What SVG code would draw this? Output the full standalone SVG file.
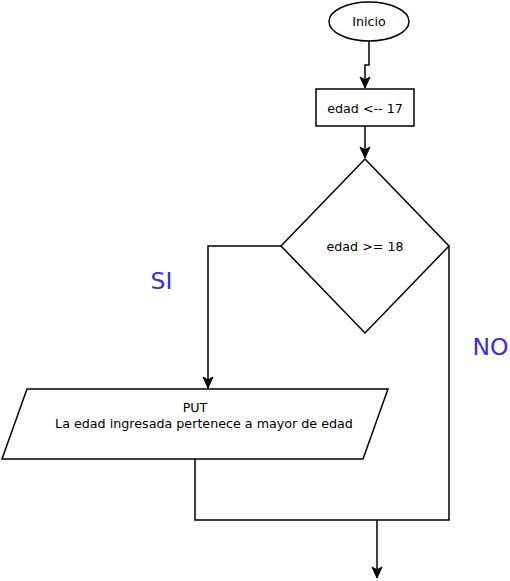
<svg xmlns="http://www.w3.org/2000/svg" width="510" height="581" viewBox="0 0 510 581">
<style>
.shape{fill:#ffffff;stroke:#000000;stroke-width:1.5}
.edge{fill:none;stroke:#000000;stroke-width:1.5}
.t{font-family:"DejaVu Sans",sans-serif;font-size:12.7px;fill:#000000;text-anchor:middle}
.lbl{font-family:"DejaVu Sans",sans-serif;font-size:23.5px;fill:#3a2ee0;text-anchor:middle}
</style>
<defs>
<marker id="arr" markerUnits="userSpaceOnUse" markerWidth="13" markerHeight="13" viewBox="0 0 13 13" refX="12" refY="6.5" orient="auto">
<path d="M1,1.5 L12,6.5 L1,11.5 L3.8,6.5 Z" fill="#000" stroke="#000" stroke-width="1"/>
</marker>
</defs>
<g id="connectors">
<path class="edge" d="M369,41 L369,65 L365,65 L365,88" marker-end="url(#arr)"/>
<path class="edge" d="M365,126 L365,158" marker-end="url(#arr)"/>
<path class="edge" d="M281,246 L208,246 L208,388" marker-end="url(#arr)"/>
<path class="edge" d="M449,246 L449,520 L377,520"/>
<path class="edge" d="M195,459 L195,520 L377,520"/>
<path class="edge" d="M377,520 L377,578" marker-end="url(#arr)"/>
</g>
<g id="inicio">
<ellipse class="shape" cx="369" cy="21.5" rx="40" ry="19.5"/>
<text class="t" x="369" y="26">Inicio</text>
</g>
<g id="asignacion">
<rect class="shape" x="316" y="89" width="98" height="37"/>
<text class="t" x="365" y="112.5">edad &lt;-- 17</text>
</g>
<g id="decision">
<path class="shape" d="M365,159 L449,246 L365,333 L281,246 Z"/>
<text class="t" x="365" y="251">edad &gt;= 18</text>
</g>
<g id="salida">
<path class="shape" d="M27,389 L388,389 L363,459 L2,459 Z"/>
<text class="t" x="195" y="412">PUT</text>
<text class="t" x="204" y="428">La edad ingresada pertenece a mayor de edad</text>
</g>
<g id="labels">
<text class="lbl" x="161.5" y="289">SI</text>
<text class="lbl" x="490.5" y="355">NO</text>
</g>
</svg>
